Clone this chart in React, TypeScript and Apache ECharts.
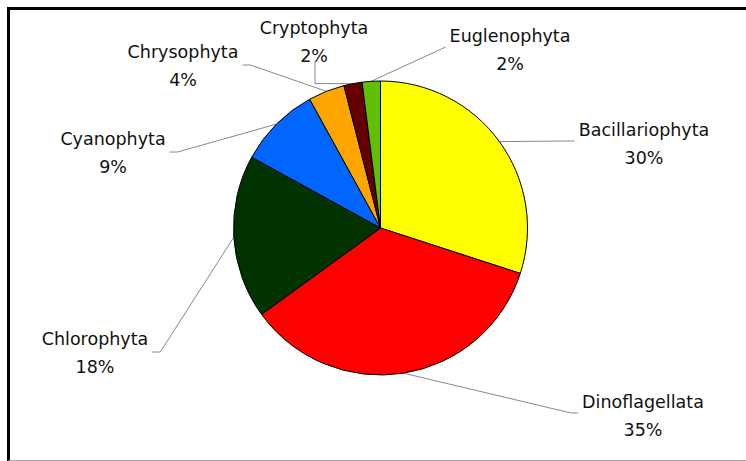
import React, { useEffect, useRef } from "react";
import * as echarts from "echarts";

const categories = [
  "Bacillariophyta",
  "Dinoflagellata",
  "Chlorophyta",
  "Cyanophyta",
  "Chrysophyta",
  "Cryptophyta",
  "Euglenophyta",
];
const percents = [30, 35, 18, 9, 4, 2, 2];
const colors = ["#FFFF00", "#FF0000", "#003300", "#0066FF", "#FFA500", "#660000", "#5FBF00"];

// label block centres (layout only)
const labelCenters: number[][] = [
  [644, 144],
  [643, 416],
  [95, 353],
  [113, 153],
  [183, 66],
  [314, 42],
  [510, 50],
];
// leader style per label: which side of the text the line attaches to
const leaderSides = ["left", "left", "right", "right", "right", "bottom", "left"];

export default function App() {
  const ref = useRef<HTMLDivElement>(null);
  useEffect(() => {
    if (!ref.current) return;
    const chart = echarts.init(ref.current, null, { renderer: "svg" });
    chart.setOption({
      animation: false,
      backgroundColor: "transparent",
      series: [
        {
          type: "pie",
          center: [380.5, 228],
          radius: 147,
          startAngle: 90,
          clockwise: true,
          avoidLabelOverlap: false,
          data: categories.map((name, i) => ({
            name,
            value: percents[i],
            itemStyle: { color: colors[i] },
          })),
          itemStyle: { borderColor: "#000", borderWidth: 1 },
          label: {
            show: true,
            position: "outside",
            formatter: (p: any) => `${p.name}\n${p.value}%`,
            fontFamily: "DejaVu Sans",
            fontSize: 17.5,
            lineHeight: 28,
            color: "#111",
            align: "center",
          },
          labelLine: {
            show: true,
            length: 10,
            length2: 10,
            lineStyle: { color: "#888", width: 1 },
          },
          labelLayout: (params: any) => {
            const i = params.dataIndex;
            const [cx, cy] = labelCenters[i];
            const w = params.labelRect.width;
            const anchor = params.labelLinePoints ? params.labelLinePoints[0] : [cx, cy];
            const side = leaderSides[i];
            let bend: number[];
            let end: number[];
            if (side === "left") {
              end = [cx - w / 2 - 4, cy - 3];
              bend = i === 6 ? end : [end[0] - 7, end[1]];
            } else if (side === "right") {
              end = [cx + w / 2 + 4, cy - 1];
              bend = [end[0] + 8, end[1]];
            } else {
              end = [cx + 1, cy + 20];
              bend = [cx + 1, anchor[1]];
            }
            return {
              x: cx,
              y: cy,
              align: "center",
              verticalAlign: "middle",
              labelLinePoints: [anchor, bend, end],
            };
          },
        },
      ],
    });
    return () => chart.dispose();
  }, []);
  return (
    <div style={{ position: "absolute", left: 0, top: 0, width: 746, height: 461, overflow: "hidden", background: "#fff" }}>
      <div
        style={{
          position: "absolute",
          left: 7,
          top: 7,
          width: 760,
          height: 454,
          boxSizing: "border-box",
          borderLeft: "3px solid #000",
          borderTop: "3px solid #000",
          borderBottom: "1px solid #a6a6a6",
        }}
      />
      <div ref={ref} style={{ position: "absolute", left: 0, top: 0, width: 746, height: 461 }} />
    </div>
  );
}
